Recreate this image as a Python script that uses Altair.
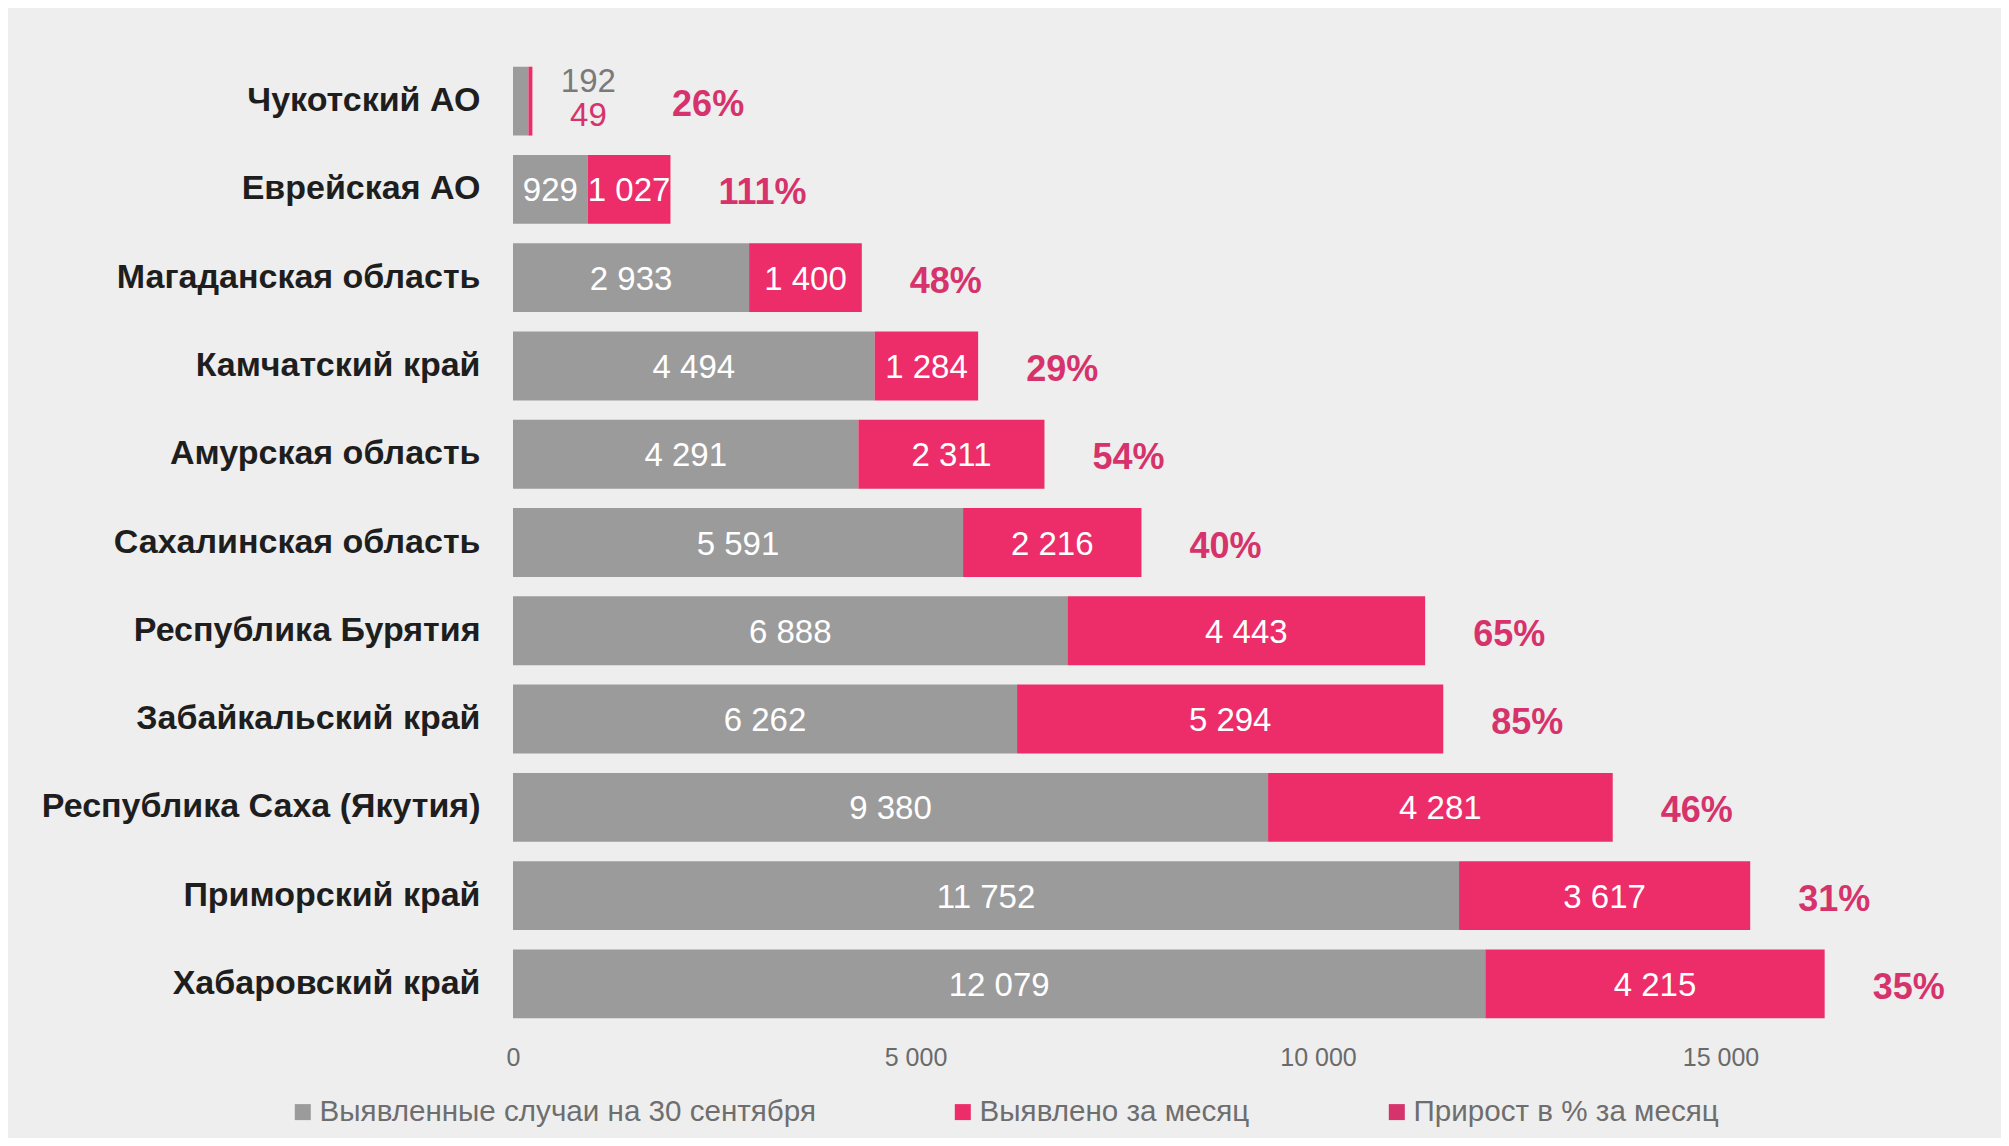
import altair as alt
import pandas as pd

regions = [
    "Чукотский АО", "Еврейская АО", "Магаданская область", "Камчатский край",
    "Амурская область", "Сахалинская область", "Республика Бурятия",
    "Забайкальский край", "Республика Саха (Якутия)", "Приморский край",
    "Хабаровский край",
]
cases_sep30 = [192, 929, 2933, 4494, 4291, 5591, 6888, 6262, 9380, 11752, 12079]
month_new = [49, 1027, 1400, 1284, 2311, 2216, 4443, 5294, 4281, 3617, 4215]
growth_pct = [26, 111, 48, 29, 54, 40, 65, 85, 46, 31, 35]

legend_labels = ["Выявленные случаи на 30 сентября", "Выявлено за месяц", "Прирост в % за месяц"]
x_ticks = [0, 5000, 10000, 15000]

GRAY = "#9b9b9b"
PINK = "#ec2d69"
PCT = "#d6336c"
FONT = "Liberation Sans"


def fmt(v):
    return f"{v:,}".replace(",", " ")


rows = []
for r, c, m, p in zip(regions, cases_sep30, month_new, growth_pct):
    rows.append(dict(region=r, series=legend_labels[0], start=0, end=c, label=fmt(c), total=c + m, pct=f"{p}%"))
    rows.append(dict(region=r, series=legend_labels[1], start=c, end=c + m, label=fmt(m), total=c + m, pct=f"{p}%"))
df = pd.DataFrame(rows)

y_enc = alt.Y(
    "region:N", sort=regions, title=None,
    scale=alt.Scale(paddingInner=0.22, paddingOuter=0.11),
    axis=alt.Axis(domain=False, ticks=False, labelFontSize=34, labelFontWeight="bold",
                  labelColor="#1e1e1e", labelFont=FONT, labelPadding=33, labelLimit=0),
)
x_scale = alt.Scale(domain=[0, 18000], nice=False)

base = alt.Chart(df)

bars = base.mark_bar().encode(
    x=alt.X("start:Q", scale=x_scale, title=None,
            axis=alt.Axis(values=x_ticks, grid=False, domain=False, ticks=False, tickSize=0,
                          labelFlush=False,
                          labelFontSize=25, labelColor="#6a6a6a", labelFont=FONT, labelPadding=17,
                          labelExpr="replace(format(datum.value, ','), ',', ' ')")),
    x2="end:Q",
    y=y_enc,
    color=alt.Color(
        "series:N", title=None,
        scale=alt.Scale(domain=legend_labels, range=[GRAY, PINK, PCT]),
        legend=alt.Legend(orient="none", legendX=-225, legendY=1040, direction="horizontal",
                          symbolType="square", symbolSize=256, symbolStrokeWidth=0,
                          labelFontSize=29.6, labelColor="#6e6e6e", labelFont=FONT, labelLimit=0,
                          labelOffset=2, columnPadding=132, columns=3),
    ),
)

inside = base.transform_filter("datum.total >= 500").transform_calculate(
    mid="(datum.start + datum.end) / 2"
).mark_text(color="white", fontSize=33, font=FONT, align="center", baseline="middle", dy=2).encode(
    x=alt.X("mid:Q", scale=x_scale), y=alt.Y("region:N", sort=regions), text="label:N"
)

small_gray = base.transform_filter(
    f"datum.total < 500 && datum.series == '{legend_labels[0]}'"
).mark_text(color="#7a7a7a", fontSize=33, font=FONT, align="center", baseline="middle", dx=56, dy=-19).encode(
    x=alt.X("total:Q", scale=x_scale), y=alt.Y("region:N", sort=regions), text="label:N"
)
small_pink = base.transform_filter(
    f"datum.total < 500 && datum.series == '{legend_labels[1]}'"
).mark_text(color=PCT, fontSize=33, font=FONT, align="center", baseline="middle", dx=56, dy=15).encode(
    x=alt.X("total:Q", scale=x_scale), y=alt.Y("region:N", sort=regions), text="label:N"
)

pct = base.transform_filter(
    f"datum.series == '{legend_labels[1]}'"
).transform_calculate(
    px="max(datum.total, 1380)"
).mark_text(color=PCT, fontSize=36, fontWeight="bold", font=FONT, align="left", baseline="middle", dx=48, dy=4).encode(
    x=alt.X("px:Q", scale=x_scale), y=alt.Y("region:N", sort=regions), text="pct:N"
)

chart = alt.layer(bars, inside, small_gray, small_pink, pct).properties(
    width=1449, height=971,
    background="#eeeeee",
    padding={"left": 505, "top": 49, "right": 39, "bottom": 110},
    autosize=alt.AutoSizeParams(type="none"),
).configure_view(stroke=None)

chart.save("out.html", embed_options={"renderer": "svg", "actions": False})
